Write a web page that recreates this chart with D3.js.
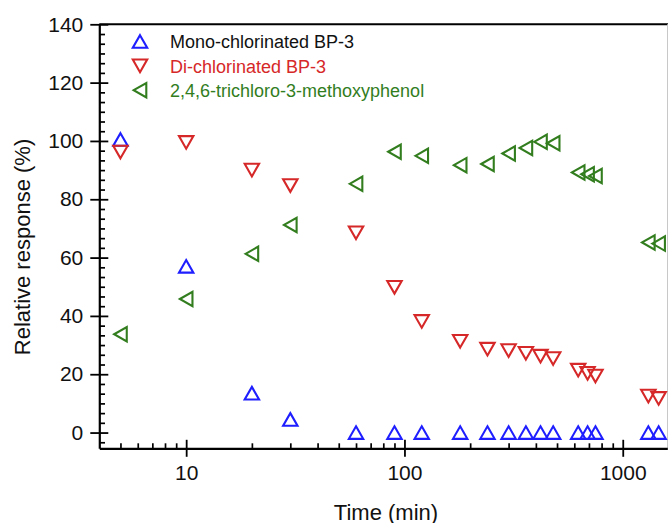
<!DOCTYPE html>
<html>
<head>
<meta charset="utf-8">
<script src="https://cdn.jsdelivr.net/npm/d3@7/dist/d3.min.js"></script>
<style>
  html, body { margin: 0; padding: 0; background: #fff; }
  svg { display: block; }
  text { font-family: "Liberation Sans", Arial, Helvetica, sans-serif; }
</style>
</head>
<body>
<svg id="chart" width="668" height="523"></svg>
<script>
// ---- data ----
const times = [5, 10, 20, 30, 60, 90, 120, 180, 240, 300, 360, 420, 480, 625, 690, 750, 1310, 1460];
const mono  = [100.5, 57, 13.5, 4.5, 0, 0, 0, 0, 0, 0, 0, 0, 0, 0, 0, 0, 0, 0];
const di    = [96.2, 99.5, 90, 84.7, 68.5, 49.8, 38.1, 31.3, 28.6, 28.1, 27.2, 26.2, 25.4, 21.4, 20.3, 19.4, 12.5, 11.7];
const tcmp  = [33.7, 45.8, 61.3, 71.2, 85.3, 96.3, 94.9, 91.7, 92.1, 95.7, 97.6, 99.7, 99.2, 89.2, 88.6, 88.0, 65.2, 64.8];
const seriesNames = ["Mono-chlorinated BP-3", "Di-chlorinated BP-3", "2,4,6-trichloro-3-methoxyphenol"];
const yTicks = [0, 20, 40, 60, 80, 100, 120, 140];
const xTicks = [10, 100, 1000];
const xTitle = "Time (min)";
const yTitle = "Relative response (%)";

// ---- styling ----
const colors = ["#1e1eff", "#d62828", "#327d1e"];
const textColors = ["#111", "#d62828", "#327d1e"];
const shapes = {
  up:   "M0,-6.3L7.2,6.3L-7.2,6.3Z",
  down: "M0,6.3L7.2,-6.3L-7.2,-6.3Z",
  left: "M-6.3,0L6.3,-7.2L6.3,7.2Z"
};
const shapeKeys = ["up", "down", "left"];

const svg = d3.select("#chart");
const pLeft = 99.3, pRight = 667.3, pTop = 24.3, pBottom = 448.3;

const x = d3.scaleLog().domain([4, 1600]).range([pLeft, pRight]);
const y = d3.scaleLinear().domain([-5.4, 140]).range([pBottom, pTop]);

// frame: top line and faint right edge
svg.append("line").attr("x1", pLeft).attr("x2", 668).attr("y1", pTop).attr("y2", pTop)
  .attr("stroke", "#000").attr("stroke-width", 2);
svg.append("line").attr("x1", 667.5).attr("x2", 667.5).attr("y1", pTop).attr("y2", pBottom)
  .attr("stroke", "#c8c8c8").attr("stroke-width", 1);

// y axis minor ticks
const yMinor = d3.range(-6, 43).map(i => i * 20 / 6).filter(v => v >= -5.4 && v <= 140 && Math.abs(v / 20 - Math.round(v / 20)) > 1e-6);
svg.append("g").attr("transform", `translate(${pLeft},0)`)
  .call(d3.axisLeft(y).tickValues(yMinor).tickSize(-5.7).tickFormat(""))
  .call(g => g.select(".domain").remove())
  .selectAll("line").attr("stroke", "#000").attr("stroke-width", 1.7);

// y axis major
const gy = svg.append("g").attr("transform", `translate(${pLeft},0)`)
  .call(d3.axisLeft(y).tickValues(yTicks).tickSize(9).tickPadding(7).tickSizeOuter(0));
gy.select(".domain").attr("stroke", "#000").attr("stroke-width", 2.2);
gy.selectAll(".tick line").attr("x1", 9).attr("stroke", "#000").attr("stroke-width", 1.8);
gy.selectAll(".tick text").attr("font-size", 21).attr("fill", "#111")
  .attr("font-family", "'Liberation Sans', Arial, sans-serif");

// x axis minor ticks
const xMinor = [5, 6, 7, 8, 9, 20, 30, 40, 50, 60, 70, 80, 90, 200, 300, 400, 500, 600, 700, 800, 900];
svg.append("g").attr("transform", `translate(0,${pBottom})`)
  .call(d3.axisBottom(x).tickValues(xMinor).tickSize(-5).tickFormat(""))
  .call(g => g.select(".domain").remove())
  .selectAll("line").attr("stroke", "#000").attr("stroke-width", 1.7);

// x axis major
const gx = svg.append("g").attr("transform", `translate(0,${pBottom})`)
  .call(d3.axisBottom(x).tickValues(xTicks).tickSize(8.5).tickPadding(8).tickSizeOuter(0).tickFormat(d3.format("d")));
gx.select(".domain").attr("stroke", "#000").attr("stroke-width", 2.2);
gx.selectAll(".tick line").attr("y1", -8.5).attr("stroke", "#000").attr("stroke-width", 1.8);
gx.selectAll(".tick text").attr("font-size", 21).attr("fill", "#111")
  .attr("font-family", "'Liberation Sans', Arial, sans-serif");

// axis titles
svg.append("text").attr("x", 386).attr("y", 519.5).attr("text-anchor", "middle")
  .attr("font-size", 22).attr("fill", "#111").text(xTitle);
svg.append("text").attr("transform", "translate(29.5,247) rotate(-90)").attr("text-anchor", "middle")
  .attr("font-size", 22).attr("fill", "#111").text(yTitle);

// data points
const series = [mono, di, tcmp];
const plot = svg.append("g");
series.forEach((vals, si) => {
  plot.append("g").selectAll("path")
    .data(times.map((t, i) => ({ t, v: vals[i] })))
    .join("path")
    .attr("d", shapes[shapeKeys[si]])
    .attr("transform", d => `translate(${x(d.t)},${y(d.v)})`)
    .attr("fill", "none")
    .attr("stroke", colors[si])
    .attr("stroke-width", 2.1)
    .attr("stroke-linejoin", "miter");
});

// legend
const legend = svg.append("g");
seriesNames.forEach((name, i) => {
  const base = 48.3 + i * 24.35;
  legend.append("path").attr("d", shapes[shapeKeys[i]])
    .attr("transform", `translate(140,${base - 6.8})`)
    .attr("fill", "none").attr("stroke", colors[i]).attr("stroke-width", 2.1);
  legend.append("text").attr("x", 170).attr("y", base)
    .attr("font-size", 18).attr("fill", textColors[i]).text(name);
});
</script>
</body>
</html>
